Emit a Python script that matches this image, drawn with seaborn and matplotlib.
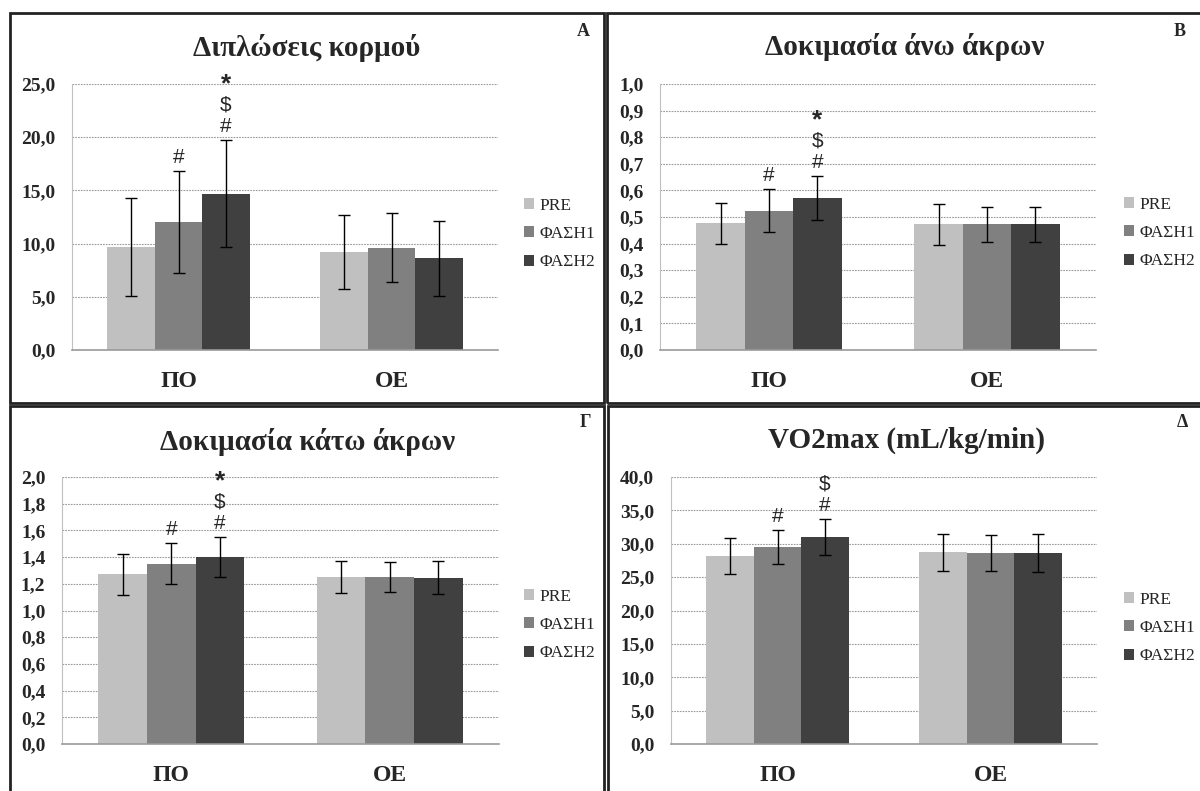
import seaborn as sns
import matplotlib.pyplot as plt
import matplotlib.patches as mpatches
import pandas as pd
from matplotlib.ticker import FuncFormatter, MultipleLocator, FixedLocator

groups = ["ΠΟ", "ΟΕ"]
phases = ["PRE", "ΦΑΣΗ1", "ΦΑΣΗ2"]
colors = ["#c0c0c0", "#808080", "#404040"]

# values: rows = groups, cols = phases
trunk_mean = [[9.7, 12.0, 14.7], [9.2, 9.6, 8.6]]
trunk_sd = [[4.6, 4.8, 5.0], [3.5, 3.25, 3.5]]

upper_mean = [[0.476, 0.524, 0.571], [0.472, 0.472, 0.472]]
upper_sd = [[0.078, 0.080, 0.083], [0.076, 0.067, 0.067]]

lower_mean = [[1.27, 1.35, 1.40], [1.25, 1.25, 1.245]]
lower_sd = [[0.155, 0.155, 0.148], [0.12, 0.115, 0.125]]

vo2_mean = [[28.2, 29.5, 31.0], [28.7, 28.6, 28.6]]
vo2_sd = [[2.7, 2.55, 2.65], [2.75, 2.7, 2.85]]

titles = ["Διπλώσεις κορμού", "Δοκιμασία άνω άκρων",
          "Δοκιμασία κάτω άκρων", "VO2max (mL/kg/min)"]
letters = ["A", "B", "Γ", "Δ"]
ymax = [25, 1.0, 2.0, 40]
ystep = [5, 0.1, 0.2, 5]

# significance marks: (group index, phase index) -> stacked symbols
marks_abc = {(0, 1): ["#"], (0, 2): ["#", "$", "*"]}
marks_d = {(0, 1): ["#"], (0, 2): ["#", "$"]}
all_marks = [marks_abc, marks_abc, marks_abc, marks_d]

means = [trunk_mean, upper_mean, lower_mean, vo2_mean]
sds = [trunk_sd, upper_sd, lower_sd, vo2_sd]

# layout in pixels (figure is 1200 x 791)
W, H = 1200, 791
axes_px = [(72, 498, 84, 350), (660, 1096, 84, 350),
           (62, 499, 477, 744), (671, 1097, 477, 744)]
title_px = [(307, 48), (905, 47), (308, 442), (906, 440)]
letter_px = [(583, 32), (1180, 32), (585, 422), (1182, 422)]
legend_px = [(524, 234), (1124, 233), (524, 625), (1124, 628)]
border_px = [(10, 13, 604, 403), (607, 13, 1215, 403),
             (10, 406, 604, 800), (608, 406, 1215, 800)]

sns.set_style("white")
plt.rcParams["font.family"] = ["Liberation Serif", "DejaVu Serif"]

fig = plt.figure(figsize=(W / 100, H / 100), dpi=100)

for b in border_px:
    x0, y0, x1, y1 = b
    fig.patches.append(mpatches.Rectangle((x0 / W, 1 - y1 / H), (x1 - x0) / W, (y1 - y0) / H,
                                          transform=fig.transFigure, fill=False,
                                          edgecolor="#222222", linewidth=2))

for i in range(4):
    x0, x1, y0, y1 = axes_px[i]
    ax = fig.add_axes([x0 / W, 1 - y1 / H, (x1 - x0) / W, (y1 - y0) / H])

    rows = []
    for g in range(2):
        for p in range(3):
            rows.append({"group": groups[g], "phase": phases[p],
                         "mean": means[i][g][p], "sd": sds[i][g][p]})
    df = pd.DataFrame(rows)

    sns.barplot(data=df, x="group", y="mean", hue="phase", order=groups, hue_order=phases,
                palette=colors, width=0.667, errorbar=None, saturation=1,
                linewidth=0, ax=ax, zorder=2)

    # error bars + significance marks on top of each bar
    bar_conts = list(ax.containers)
    for p, cont in enumerate(bar_conts):
        for g, bar in enumerate(cont):
            cx = bar.get_x() + bar.get_width() / 2
            m = means[i][g][p]
            s = sds[i][g][p]
            ax.errorbar(cx, m, yerr=s, color="black", lw=1, capsize=4, capthick=1, zorder=3)
            for k, sym in enumerate(all_marks[i].get((g, p), [])):
                bold = sym == "*"
                ax.annotate(sym, xy=(cx, m + s), xytext=(0, (14 + 21 * k) * 0.72),
                            textcoords="offset points", ha="center", va="center",
                            fontsize=19 if bold else 15, fontweight="bold" if bold else "normal",
                            family=["Liberation Sans", "DejaVu Sans"], zorder=4)

    ax.set_xlim(-0.5, 1.5)
    ax.set_ylim(0, ymax[i])
    ax.yaxis.set_major_locator(MultipleLocator(ystep[i]))
    ax.yaxis.set_major_formatter(FuncFormatter(lambda v, _: f"{v:.1f}".replace(".", ",")))
    ax.grid(axis="y", color="#9a9a9a", linestyle=(0, (1.5, 1)), linewidth=0.8, zorder=0)
    ax.set_axisbelow(True)

    ax.xaxis.set_minor_locator(FixedLocator([-0.5, 0.5, 1.5]))
    ax.tick_params(axis="x", which="major", length=0, pad=15, labelsize=17)
    ax.tick_params(axis="x", which="minor", length=7, width=1, color="#9a9a9a", direction="out")
    ax.tick_params(axis="y", length=0, pad=12, labelsize=14)
    for lab in ax.get_xticklabels() + ax.get_yticklabels():
        lab.set_fontweight("bold")

    ax.set_xlabel("")
    ax.set_ylabel("")
    for side in ["top", "right"]:
        ax.spines[side].set_visible(False)
    ax.spines["left"].set_color("#c0c0c0")
    ax.spines["bottom"].set_color("#9a9a9a")
    ax.spines["bottom"].set_linewidth(1.2)

    handles, labels = ax.get_legend_handles_labels()
    lx, ly = legend_px[i]
    ax.legend(handles, labels, loc="center left", bbox_to_anchor=(lx / W, 1 - ly / H),
              bbox_transform=fig.transFigure, frameon=False, fontsize=12.5,
              handlelength=0.6, handleheight=0.6, handletextpad=0.3,
              labelspacing=0.7, borderpad=0, borderaxespad=0)

    tx, ty = title_px[i]
    fig.text(tx / W, 1 - ty / H, titles[i], ha="center", va="center",
             fontsize=21, fontweight="bold")
    cx_, cy_ = letter_px[i]
    fig.text(cx_ / W, 1 - cy_ / H, letters[i], ha="center", va="center",
             fontsize=13, fontweight="bold")

fig.savefig("out.png", dpi=100)
